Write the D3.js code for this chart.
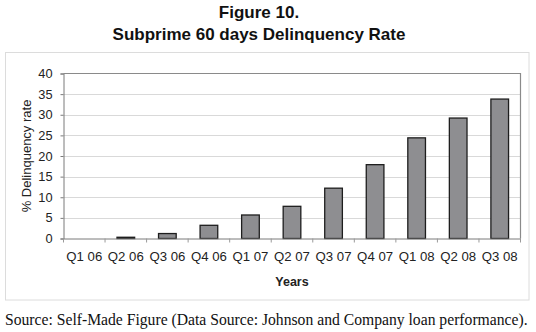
<!DOCTYPE html>
<html><head><meta charset="utf-8">
<script src="https://cdn.jsdelivr.net/npm/d3@7"></script>
<style>body{margin:0;background:#fff}svg{display:block}</style>
</head><body>
<svg id="c" width="536" height="332"></svg>
<script>
const categories = ["Q1 06","Q2 06","Q3 06","Q4 06","Q1 07","Q2 07","Q3 07","Q4 07","Q1 08","Q2 08","Q3 08"];
const values = [0, 0.3, 1.2, 3.2, 5.7, 7.8, 12.2, 17.9, 24.4, 29.2, 33.8];
const yTicks = [0,5,10,15,20,25,30,35,40];
const titleLines = ["Figure 10.", "Subprime 60 days Delinquency Rate"];
const yTitle = "% Delinquency rate";
const xTitle = "Years";
const source = "Source: Self-Made Figure (Data Source: Johnson and Company loan performance).";

const svg = d3.select("#c");
const L = 63.5, R = 520.5, T = 73.5, B = 238.5;
const x = d3.scaleBand().domain(categories).range([L, R]).paddingInner(0.575).paddingOuter(0.2875);
const xb = d3.scaleBand().domain(categories).range([L, R]);
const y = d3.scaleLinear().domain([0, 40]).range([B, T]);

// outer frame
svg.append("rect").attr("x",5.5).attr("y",52.5).attr("width",523.5).attr("height",247.5)
  .attr("fill","none").attr("stroke","#dcdcdc").attr("stroke-width",1);

// titles
svg.selectAll("text.title").data(titleLines).join("text").attr("class","title")
  .attr("x",259).attr("y",(d,i)=>18+i*22).attr("text-anchor","middle")
  .attr("font-family","Liberation Sans, Arial, sans-serif").attr("font-weight","bold")
  .attr("font-size",17).attr("fill","#111").text(d=>d);

// gridlines
svg.append("g").selectAll("line").data(yTicks.filter(d=>d>0 && d<40)).join("line")
  .attr("x1",L).attr("x2",R).attr("y1",d=>Math.round(y(d))+0.5).attr("y2",d=>Math.round(y(d))+0.5)
  .attr("stroke","#d9d9d9").attr("stroke-width",1);

// plot border (top & right)
svg.append("path").attr("d",`M${L},${T}H${R}V${B}`).attr("fill","none").attr("stroke","#8a8a8a").attr("stroke-width",1.2);

// bars
svg.append("g").selectAll("rect").data(values).join("rect")
  .attr("x",(d,i)=>x(categories[i])).attr("width",x.bandwidth())
  .attr("y",d=>y(d)).attr("height",d=>B-y(d))
  .attr("fill","#8e8e91").attr("stroke",d=>d>0?"#1e1e1e":"none").attr("stroke-width",1.3);

// y axis
const ya = d3.axisLeft(y).tickValues(yTicks).tickSize(3).tickPadding(8);
const gy = svg.append("g").attr("transform",`translate(${L},0)`).call(ya);
gy.select(".domain").attr("stroke","#7a7a7a");
gy.selectAll(".tick line").attr("stroke","#7a7a7a");
gy.selectAll("text").attr("font-family","Liberation Sans, Arial, sans-serif").attr("font-size",12.8).attr("fill","#222");

// x axis
const xa = d3.axisBottom(xb).tickSize(0).tickPadding(13);
const gx = svg.append("g").attr("transform",`translate(0,${B})`).call(xa);
gx.select(".domain").attr("stroke","#7a7a7a");
gx.selectAll("text").attr("font-family","Liberation Sans, Arial, sans-serif").attr("font-size",13.2).attr("fill","#222");
// ticks between categories
gx.append("g").selectAll("line").data(d3.range(categories.length+1)).join("line")
  .attr("x1",i=>L+i*xb.step()).attr("x2",i=>L+i*xb.step()).attr("y1",0).attr("y2",4)
  .attr("stroke","#9a9a9a");

// axis titles
svg.append("text").attr("transform",`translate(31,${(T+B)/2}) rotate(-90)`).attr("text-anchor","middle")
  .attr("font-family","Liberation Sans, Arial, sans-serif").attr("font-size",13).attr("fill","#222").text(yTitle);
svg.append("text").attr("x",(L+R)/2).attr("y",286).attr("text-anchor","middle")
  .attr("font-family","Liberation Sans, Arial, sans-serif").attr("font-weight","bold").attr("font-size",12.5).attr("fill","#222").text(xTitle);

// source
const st = svg.append("text").attr("x",5).attr("y",325)
  .attr("font-family","Liberation Serif, Times New Roman, serif").attr("font-size",14).attr("fill","#111").text(source);
const w = st.node().getComputedTextLength();
st.attr("font-size", 14*523/w);
</script>
</body></html>
